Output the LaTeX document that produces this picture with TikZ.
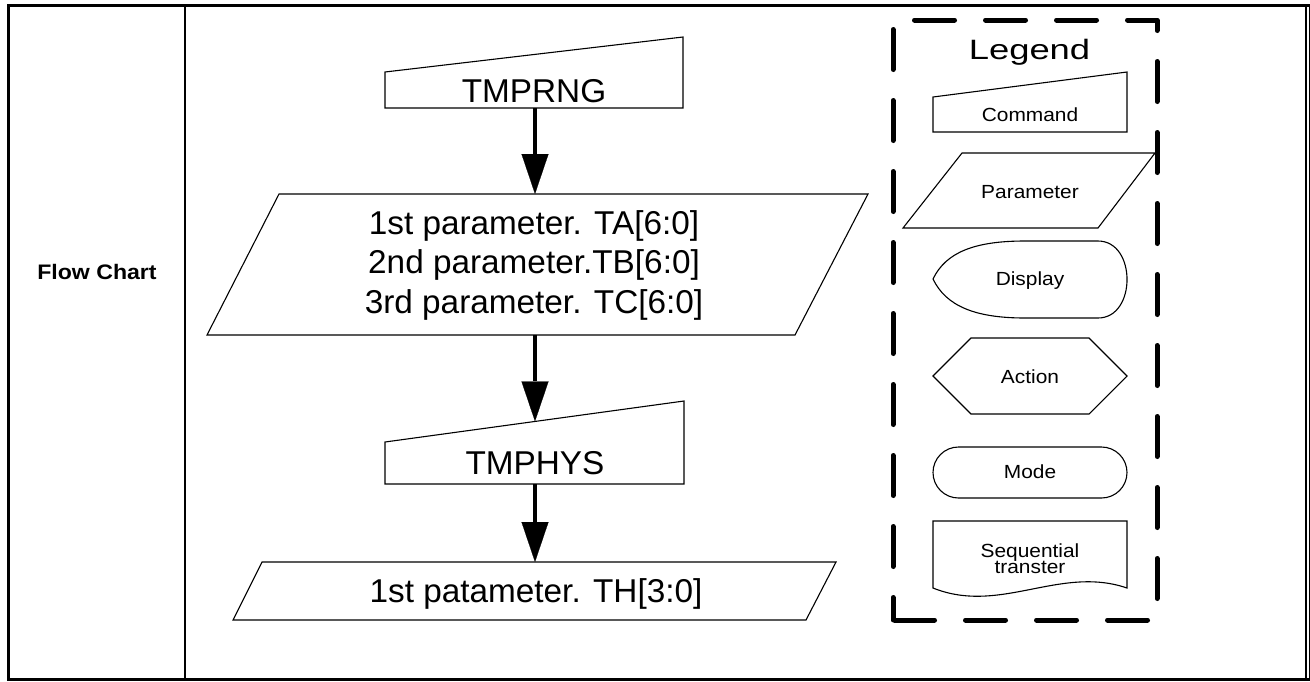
\documentclass[tikz,border=0pt]{standalone}
\usepackage{fontspec}
\setmainfont{Liberation Sans}
\newfontfamily\mainf[FakeStretch=1.01]{Liberation Sans}
\newfontfamily\legf[FakeStretch=1.1]{Liberation Sans}
\newfontfamily\titf[FakeStretch=1.3]{Liberation Sans}
\newfontfamily\fcf[FakeStretch=1.1]{Liberation Sans}
\usetikzlibrary{arrows.meta}
\begin{document}
\begin{tikzpicture}[x=0.5pt,y=-0.5pt,
  shp/.style={draw, line width=0.55pt, line join=miter},
  flowarrow/.style={line width=2pt, -{Triangle[width=13.5pt,length=20pt,line width=0.1pt]}},
  maintxt/.style={inner sep=0pt, anchor=base, font=\mainf\fontsize{16.5}{18}\selectfont},
  legtxt/.style={inner sep=0pt, anchor=base, font=\legf\fontsize{9.5}{10}\selectfont},
  legdash/.style={line width=2.5pt, line cap=round, line join=round, dash pattern=on 20pt off 15.5pt, dash phase=8.75pt}]
\useasboundingbox (0,0) rectangle (1310,681);

% outer frame
\draw[line width=1.6pt] (1310,5.5) -- (8.3,5.5) -- (8.3,679.5) -- (1310,679.5);
\draw[line width=0.7pt] (1306,5.5) -- (1306,679.5);
\draw[line width=0.7pt] (1309.4,5.5) -- (1309.4,679.5);
\draw[line width=0.85pt] (185,5.5) -- (185,679.5);
\node[inner sep=0pt, anchor=base, font=\fcf\bfseries\fontsize{10.5}{12}\selectfont] (fc) at (97,279) {Flow Chart};

% TMPRNG command
\draw[shp] (385,72) -- (683,37) -- (683,108) -- (385,108) -- cycle;
\node[maintxt] (tmprng) at (534,102.5) {TMPRNG};
\coordinate (c1s) at (535,108);

% parameter block
\draw[shp] (279,194) -- (868,194) -- (795,335) -- (207,335) -- cycle;
\coordinate (p1n) at (535,194);
\coordinate (p1s) at (535,335);
\node[maintxt] (pa) at (534,234) {1st parameter. TA[6:0]};
\node[maintxt] (pb) at (534,273) {2nd parameter.TB[6:0]};
\node[maintxt] (pc) at (534,313) {3rd parameter. TC[6:0]};

% TMPHYS command
\draw[shp] (385,442) -- (684,401) -- (684,484) -- (385,484) -- cycle;
\node[maintxt] (tmphys) at (535,474) {TMPHYS};
\coordinate (c2n) at (535,421.4);
\coordinate (c2s) at (535,484);

% last parameter
\draw[shp] (262,562) -- (836,562) -- (806,620) -- (233,620) -- cycle;
\coordinate (p2n) at (535,562);
\node[maintxt] (ph) at (536,602) {1st patameter. TH[3:0]};

% arrows
\draw[flowarrow] (c1s) -- (p1n);
\draw[flowarrow] (p1s) -- (c2n);
\draw[flowarrow] (c2s) -- (p2n);

% legend box
\draw[legdash] (893,620) -- (893,20) -- (1157,20) -- (1157,620) -- cycle;
\node[inner sep=0pt, anchor=base, font=\titf\fontsize{14}{16}\selectfont] (legend) at (1029.5,59) {Legend};

% command symbol
\draw[shp] (933,97) -- (1127,72) -- (1127,132) -- (933,132) -- cycle;
\node[legtxt] (lcmd) at (1030,121) {Command};

% parameter symbol
\draw[shp] (962,153) -- (1155,153) -- (1098,228) -- (903,228) -- cycle;
\node[legtxt] (lpar) at (1030,198) {Parameter};

% display symbol
\draw[shp] (933,279) .. controls (946,252) and (975,241) .. (1025,241) -- (1098,241)
  .. controls (1136.7,241) and (1136.7,318) .. (1098,318) -- (1025,318)
  .. controls (975,318) and (946,306) .. cycle;
\node[legtxt] (ldisp) at (1030,285) {Display};

% action symbol
\draw[shp] (933,376) -- (971,338) -- (1089,338) -- (1127,376) -- (1089,414) -- (971,414) -- cycle;
\node[legtxt] (lact) at (1030,383) {Action};

% mode symbol
\draw[shp, rounded corners=12.75pt] (933,447) rectangle (1127,498);
\node[legtxt] (lmode) at (1030,478) {Mode};

% sequential transfer symbol
\draw[shp] (933,588) -- (933,521) -- (1127,521) -- (1127,588)
  .. controls (1060,565) and (1000,615) .. cycle;
\node[legtxt] (lseq1) at (1030,557) {Sequential};
\node[legtxt] (lseq2) at (1030,573.5) {transter};
\end{tikzpicture}
\end{document}
